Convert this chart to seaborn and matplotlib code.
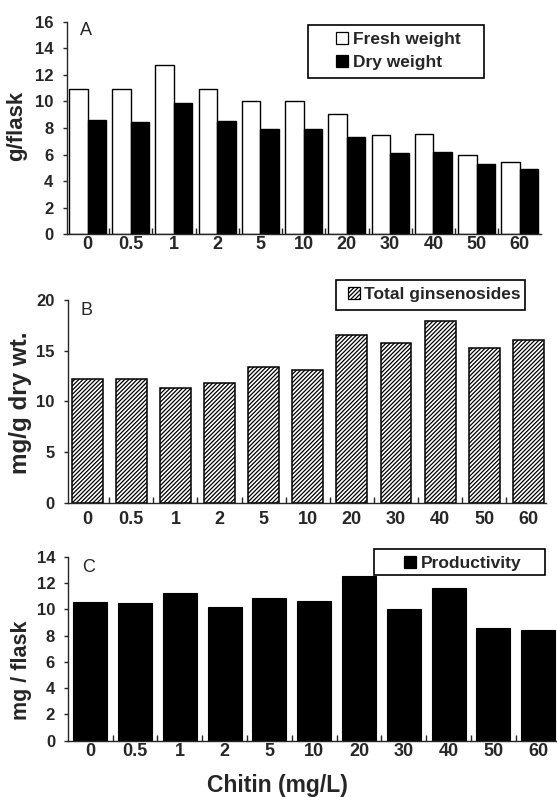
import matplotlib
matplotlib.use("Agg")
import matplotlib.pyplot as plt
from matplotlib.patches import Patch, Rectangle
import seaborn as sns
import pandas as pd
import numpy as np

chitin = ["0", "0.5", "1", "2", "5", "10", "20", "30", "40", "50", "60"]
fresh_weight = [10.9, 10.9, 12.75, 10.95, 10.05, 10.0, 9.05, 7.5, 7.55, 6.0, 5.45]
dry_weight = [8.6, 8.45, 9.85, 8.55, 7.9, 7.95, 7.3, 6.15, 6.2, 5.3, 4.95]
total_ginsenosides = [12.25, 12.25, 11.35, 11.8, 13.4, 13.1, 16.55, 15.75, 17.95, 15.3, 16.05]
productivity = [10.55, 10.45, 11.25, 10.15, 10.85, 10.65, 12.55, 10.05, 11.65, 8.6, 8.4]

series_names = ["Fresh weight", "Dry weight"]

sns.set_style("ticks")
plt.rcParams["font.family"] = ["Liberation Sans", "DejaVu Sans"]
plt.rcParams["hatch.linewidth"] = 0.9
plt.rcParams["axes.linewidth"] = 1.0

fig = plt.figure(figsize=(5.57, 7.97), dpi=100)
W, H = 557.0, 797.0


def add_ax(left, right, top, bottom):
    return fig.add_axes([left / W, 1 - bottom / H, (right - left) / W, (bottom - top) / H])


axA = add_ax(66.5, 541, 21.7, 234.3)
axB = add_ax(67.7, 546, 300, 502.7)
axC = add_ax(68.3, 557, 556.7, 740.7)

dfA = pd.DataFrame({
    "Chitin": chitin * 2,
    "series": [series_names[0]] * len(chitin) + [series_names[1]] * len(chitin),
    "value": fresh_weight + dry_weight,
})

sns.barplot(data=dfA, x="Chitin", y="value", hue="series", order=chitin,
            hue_order=series_names, palette=["white", "black"], edgecolor="black",
            linewidth=1, width=0.856, gap=0, saturation=1, errorbar=None,
            legend=False, ax=axA)

sns.barplot(x=chitin, y=total_ginsenosides, order=chitin, color="white",
            edgecolor="black", linewidth=1.1, hatch="////////", width=0.70,
            saturation=1, errorbar=None, ax=axB)

sns.barplot(x=chitin, y=productivity, order=chitin, color="black",
            edgecolor="black", linewidth=0.8, width=0.76,
            saturation=1, errorbar=None, ax=axC)


def style(ax, xlim, ymax, ystep, xpad):
    ax.set_xlim(*xlim)
    ax.set_ylim(0, ymax)
    ax.set_yticks(np.arange(0, ymax + 0.01, ystep))
    ax.set_xticks(range(len(chitin)))
    ax.set_xticklabels(chitin)
    ax.set_xticks(np.arange(0.5, len(chitin) - 0.5, 1), minor=True)
    ax.tick_params(axis="x", which="major", length=0, pad=xpad, labelsize=13)
    ax.tick_params(axis="x", which="minor", direction="in", length=4, width=1)
    ax.tick_params(axis="y", direction="out", length=3, width=1, labelsize=12, pad=6.5)
    for lab in ax.get_xticklabels() + ax.get_yticklabels():
        lab.set_fontweight("bold")
    sns.despine(ax=ax)
    ax.set_xlabel("")


style(axA, (-0.486, 10.49), 16, 2, 1.3)
style(axB, (-0.442, 10.40), 20, 5, 6.2)
style(axC, (-0.49, 10.42), 14, 2, 1.9)

axA.set_ylabel("g/flask", fontsize=16, fontweight="bold")
axA.yaxis.set_label_coords(-0.083, 0.509)
axB.set_ylabel("mg/g dry wt.", fontsize=17.5, fontweight="bold")
axB.yaxis.set_label_coords(-0.075, 0.492)
axC.set_ylabel("mg / flask", fontsize=15.5, fontweight="bold")
axC.yaxis.set_label_coords(-0.074, 0.384)

axC.set_xlabel("Chitin (mg/L)", fontsize=16.5, fontweight="bold")
axC.xaxis.set_label_coords(0.427, -0.181)

axA.text(0.028, 0.937, "A", transform=axA.transAxes, fontsize=13, va="baseline", ha="left")
axB.text(0.026, 0.926, "B", transform=axB.transAxes, fontsize=13, va="baseline", ha="left")
axC.text(0.028, 0.917, "C", transform=axC.transAxes, fontsize=13, va="baseline", ha="left")


def legend(ax, handles, labels, hx, cy, box, labelspacing=0.2):
    leg = ax.legend(handles, labels, loc="center left",
                    bbox_to_anchor=(hx / W, 1 - cy / H),
                    bbox_transform=fig.transFigure,
                    borderaxespad=0, borderpad=0, frameon=False,
                    prop={"weight": "bold", "size": 12.5},
                    handlelength=0.7, handleheight=0.7, handletextpad=0.25,
                    labelspacing=labelspacing)
    x0, y0, x1, y1 = box
    fig.patches.append(Rectangle((x0 / W, 1 - y1 / H), (x1 - x0) / W, (y1 - y0) / H,
                                 transform=fig.transFigure, fill=False,
                                 edgecolor="black", linewidth=1.2, zorder=5))
    return leg


hA = [Patch(facecolor="white", edgecolor="black", linewidth=0.9),
      Patch(facecolor="black", edgecolor="black", linewidth=0.9)]
legend(axA, hA, series_names, 336.3, 51.0, (307.7, 25, 484, 78), 0.45)

hB = [Patch(facecolor="white", edgecolor="black", linewidth=0.9, hatch="////////")]
legend(axB, hB, ["Total ginsenosides"], 347.7, 294.3, (336, 280, 525.3, 310))

hC = [Patch(facecolor="black", edgecolor="black", linewidth=0.9)]
legend(axC, hC, ["Productivity"], 404.3, 563.3, (373.7, 549.3, 545.3, 575))

fig.savefig("out.png", dpi=100)
